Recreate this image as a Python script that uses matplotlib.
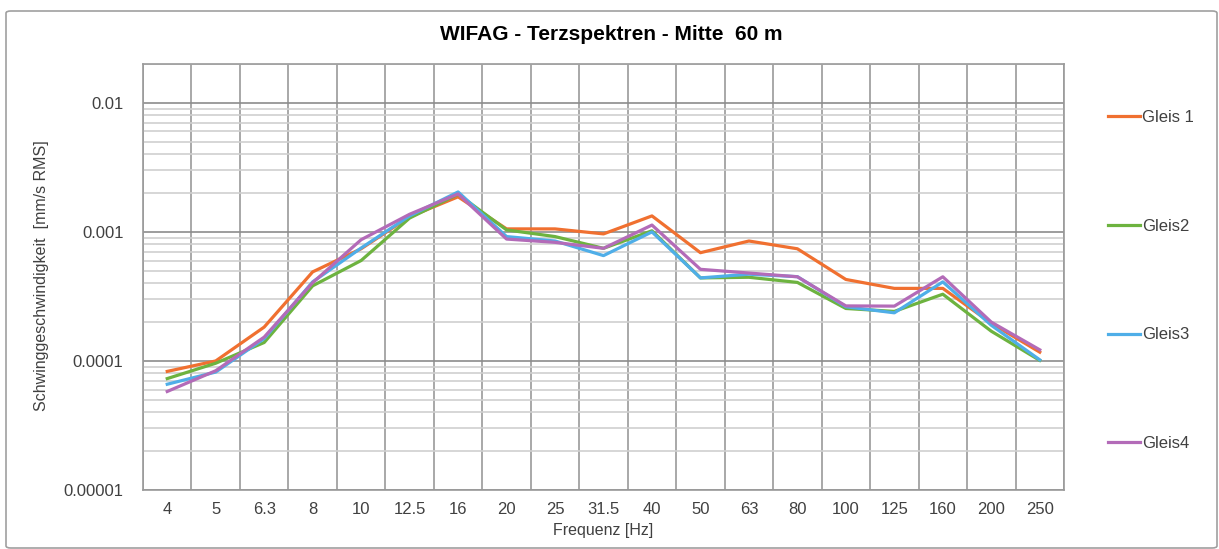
import numpy as np
import matplotlib.pyplot as plt
from matplotlib.patches import FancyBboxPatch
from matplotlib.ticker import LogLocator, NullFormatter, FixedLocator

# Daten (Terzspektren)
freq = ['4', '5', '6.3', '8', '10', '12.5', '16', '20', '25', '31.5', '40',
        '50', '63', '80', '100', '125', '160', '200', '250']
gleis1 = [8.3e-5, 1.0e-4, 1.83e-4, 4.9e-4, 7.4e-4, 1.31e-3, 1.87e-3, 1.055e-3, 1.055e-3,
          9.65e-4, 1.33e-3, 6.9e-4, 8.5e-4, 7.4e-4, 4.28e-4, 3.65e-4, 3.65e-4, 1.96e-4, 1.17e-4]
gleis2 = [7.3e-5, 9.6e-5, 1.39e-4, 3.82e-4, 6.0e-4, 1.28e-3, 1.96e-3, 1.036e-3, 9.2e-4,
          7.46e-4, 1.02e-3, 4.4e-4, 4.45e-4, 4.06e-4, 2.55e-4, 2.42e-4, 3.29e-4, 1.7e-4, 1.01e-4]
gleis3 = [6.6e-5, 8.2e-5, 1.49e-4, 4.1e-4, 7.5e-4, 1.33e-3, 2.04e-3, 9.2e-4, 8.5e-4,
          6.55e-4, 1.0e-3, 4.4e-4, 4.7e-4, 4.5e-4, 2.63e-4, 2.36e-4, 4.1e-4, 1.89e-4, 1.02e-4]
gleis4 = [5.8e-5, 8.4e-5, 1.53e-4, 4.04e-4, 8.7e-4, 1.37e-3, 1.97e-3, 8.8e-4, 8.3e-4,
          7.46e-4, 1.13e-3, 5.13e-4, 4.8e-4, 4.49e-4, 2.67e-4, 2.66e-4, 4.49e-4, 2.0e-4, 1.22e-4]

namen = ['Gleis 1', 'Gleis2', 'Gleis3', 'Gleis4']
farben = ['#F07030', '#6DB33F', '#4FAEE8', '#B36BB8']

plt.rcParams['font.family'] = ['Liberation Sans', 'DejaVu Sans']

fig = plt.figure(figsize=(12.19, 5.49), dpi=100)
ax = fig.add_axes([143/1219, 1 - 490/549, (1064-143)/1219, (490-64)/549])

x = np.arange(len(freq))
for daten, name, farbe in zip([gleis1, gleis2, gleis3, gleis4], namen, farben):
    ax.plot(x, daten, color=farbe, lw=2.3, label=name, solid_joinstyle='round')

ax.set_yscale('log')
ax.set_ylim(1e-5, 0.02)
ax.set_xlim(-0.5, len(freq) - 0.5)
ax.set_xticks(x)
ax.set_xticklabels(freq)
ax.xaxis.set_minor_locator(FixedLocator(np.arange(-0.5, len(freq), 1)))
ax.yaxis.set_major_locator(FixedLocator([1e-5, 1e-4, 1e-3, 1e-2]))
ax.set_yticklabels(['0.00001', '0.0001', '0.001', '0.01'])
ax.yaxis.set_minor_locator(LogLocator(base=10, subs=np.arange(2, 10)))
ax.yaxis.set_minor_formatter(NullFormatter())

ax.grid(True, which='major', axis='y', color='#8c8c8c', lw=1.2)
ax.grid(True, which='minor', axis='y', color='#cfcfcf', lw=1.2)
ax.grid(True, which='minor', axis='x', color='#9a9a9a', lw=1.2)
ax.set_axisbelow(True)
ax.tick_params(which='both', length=0, labelsize=12, colors='#404040')
ax.tick_params(axis='x', pad=9)
ax.tick_params(axis='y', pad=14)
for s in ax.spines.values():
    s.set_color('#9a9a9a')
    s.set_linewidth(1.2)

fig.text(611/1219, 1 - 35/549, 'WIFAG - Terzspektren - Mitte  60 m', ha='center', va='center',
         fontsize=15, fontweight='bold')
ax.set_xlabel('Frequenz [Hz]', fontsize=11.5, color='#404040', labelpad=4)
fig.text(42/1219, 1 - 276/549, 'Schwinggeschwindigkeit  [mm/s RMS]', rotation=90,
         ha='center', va='center', fontsize=11.5, color='#404040')

fig.legend(loc='upper left', bbox_to_anchor=(1093/1219, 1 - 95/549), frameon=False,
           fontsize=12, labelspacing=5.62, handlelength=1.9, handletextpad=0.15,
           labelcolor='#404040')

rahmen = FancyBboxPatch((6/1219, 1 - 548/549), (1217-6)/1219, (548-11)/549,
                        boxstyle='round,pad=0,rounding_size=0.004', transform=fig.transFigure,
                        fill=False, edgecolor='#a0a0a0', lw=1.2)
fig.patches.append(rahmen)

fig.savefig('out.png', dpi=100)
